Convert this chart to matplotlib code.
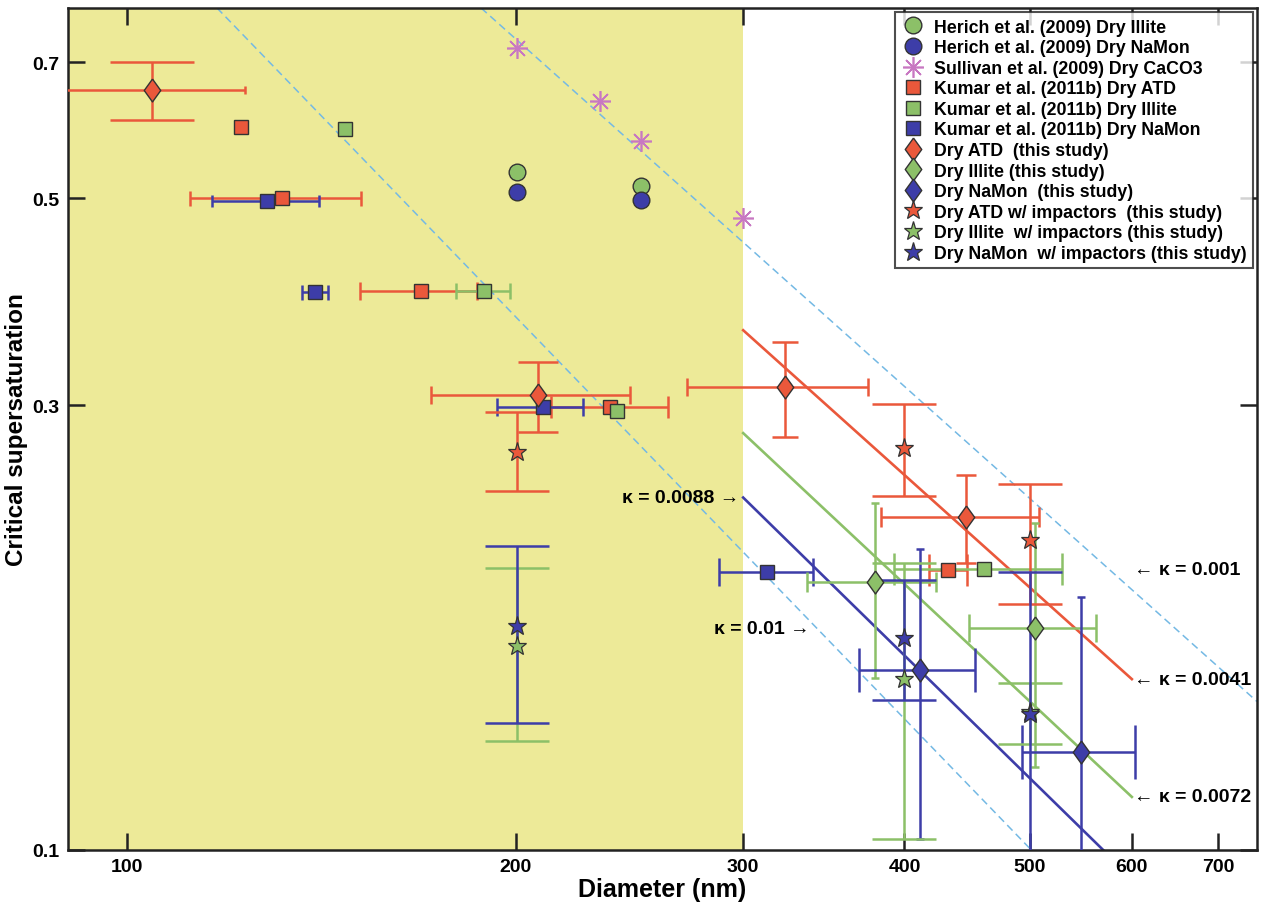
import numpy as np
import matplotlib
matplotlib.use('Agg')
import matplotlib.pyplot as plt
from matplotlib.lines import Line2D
from matplotlib import font_manager
from matplotlib.ticker import FixedLocator, FixedFormatter, NullLocator

# ---------------- data ----------------
herich_illite_d = [200.5, 250.1]
herich_illite_s = [0.533, 0.516]
herich_namon_d = [200.5, 250.1]
herich_namon_s = [0.508, 0.4975]

sullivan_d = [200.6, 232.3, 250.1, 300.0]
sullivan_s = [0.725, 0.636, 0.5765, 0.476]

kumar_atd_d = [122.5, 131.8, 169.0, 236.6, 432.6]
kumar_atd_s = [0.597, 0.500, 0.398, 0.299, 0.1997]
kumar_atd_dlo = [np.nan, 111.8, 151.5, 213.0, 417.5]
kumar_atd_dhi = [np.nan, 151.8, 186.6, 262.6, 447.0]

kumar_illite_d = [147.5, 189.0, 239.7, 461.0]
kumar_illite_s = [0.593, 0.398, 0.296, 0.200]
kumar_illite_dlo = [np.nan, 179.7, np.nan, 392.6]
kumar_illite_dhi = [np.nan, 198.1, np.nan, 530.0]

kumar_namon_d = [128.4, 139.9, 209.8, 312.8]
kumar_namon_s = [0.497, 0.397, 0.299, 0.1987]
kumar_namon_dlo = [116.3, 136.6, 193.4, 287.2]
kumar_namon_dhi = [140.7, 143.2, 225.3, 339.5]

dry_atd_d = [104.6, 208.1, 323.2, 446.0]
dry_atd_s = [0.653, 0.3075, 0.314, 0.2275]
dry_atd_dlo = [88.6, 171.9, 271.4, 383.7]
dry_atd_dhi = [123.5, 245.2, 375.0, 508.0]
dry_atd_slo = [0.607, 0.281, 0.2776, 0.2034]
dry_atd_shi = [0.700, 0.334, 0.3504, 0.2526]

dry_illite_d = [379.3, 505.0]
dry_illite_s = [0.194, 0.173]
dry_illite_dlo = [336.0, 448.6]
dry_illite_dhi = [423.0, 563.0]
dry_illite_slo = [0.153, 0.1226]
dry_illite_shi = [0.2354, 0.224]

dry_namon_d = [411.3, 547.7]
dry_namon_s = [0.156, 0.1273]
dry_namon_dlo = [368.9, 493.2]
dry_namon_dhi = [453.3, 603.7]
dry_namon_slo = [0.1028, 0.0676]
dry_namon_shi = [0.2101, 0.187]

imp_atd_d = [200.5, 400.0, 500.0]
imp_atd_s = [0.2675, 0.270, 0.215]
imp_atd_slo = [0.2425, 0.240, 0.1834]
imp_atd_shi = [0.2947, 0.301, 0.247]

imp_illite_d = [200.5, 400.0, 500.0]
imp_illite_s = [0.1657, 0.1525, 0.1405]
imp_illite_slo = [0.131, 0.1028, 0.130]
imp_illite_shi = [0.2005, 0.2031, 0.151]

imp_namon_d = [200.5, 400.0, 500.0]
imp_namon_s = [0.1738, 0.169, 0.140]
imp_namon_slo = [0.1368, 0.145, 0.081]
imp_namon_shi = [0.2118, 0.1947, 0.1986]

# kappa iso-lines (end points)
kappa_labels = ['0.001', '0.0041', '0.0072', '0.0088', '0.01']
kappa_d = [[188.0, 750.0], [300.0, 600.0], [300.0, 600.0], [300.0, 600.0], [117.4, 501.5]]
kappa_s = [[0.80, 0.1443], [0.361, 0.1525], [0.280, 0.114], [0.2388, 0.0933], [0.80, 0.100]]

x_ticks = [100, 200, 300, 400, 500, 600, 700]
x_ticklabels = ['100', '200', '300', '400', '500', '600', '700']
y_ticks = [0.1, 0.3, 0.5, 0.7]
y_ticklabels = ['0.1', '0.3', '0.5', '0.7']

legend_labels = [
    'Herich et al. (2009) Dry Illite',
    'Herich et al. (2009) Dry NaMon',
    'Sullivan et al. (2009) Dry CaCO3',
    'Kumar et al. (2011b) Dry ATD',
    'Kumar et al. (2011b) Dry Illite',
    'Kumar et al. (2011b) Dry NaMon',
    'Dry ATD  (this study)',
    'Dry Illite (this study)',
    'Dry NaMon  (this study)',
    'Dry ATD w/ impactors  (this study)',
    'Dry Illite  w/ impactors (this study)',
    'Dry NaMon  w/ impactors (this study)',
]

# ---------------- styles ----------------
RED = '#EA583B'
GREEN = '#8CC068'
BLUE = '#3D3DA8'
DASH = '#74B9E4'
PURPLE = '#C878C2'
YELLOW = '#EDEA98'
EDGE = '#333333'

names = {f.name for f in font_manager.fontManager.ttflist}
if 'Liberation Sans Narrow' in names:
    base = 'Liberation Sans Narrow'
elif 'Liberation Sans' in names:
    base = 'Liberation Sans'
else:
    base = 'DejaVu Sans'
plt.rcParams['font.family'] = [base, 'DejaVu Sans']
plt.rcParams['font.weight'] = 'bold'
plt.rcParams['axes.labelweight'] = 'bold'

DIAMOND = [(0, 1), (0.72, 0), (0, -1), (-0.72, 0), (0, 1)]
ELW = 1.8

fig = plt.figure(figsize=(12.64, 9.04), dpi=100)
ax = fig.add_axes([68 / 1264, 53 / 904, (1257 - 68) / 1264, (851 - 9) / 904])
ax.set_xscale('log')
ax.set_yscale('log')
ax.set_xlim(90, 750)
ax.set_ylim(0.1, 0.8)
ax.axvspan(90, 300, color=YELLOW, lw=0, zorder=0)


def xerrs(d, s, lo, hi, color, caps):
    for i in range(len(d)):
        if np.isnan(lo[i]):
            continue
        ax.errorbar(d[i], s[i], xerr=[[d[i] - lo[i]], [hi[i] - d[i]]], fmt='none',
                    ecolor=color, elinewidth=ELW, capsize=caps[i], capthick=ELW, zorder=3)


def yerrs(d, s, lo, hi, color, caps):
    for i in range(len(d)):
        ax.errorbar(d[i], s[i], yerr=[[s[i] - lo[i]], [hi[i] - s[i]]], fmt='none',
                    ecolor=color, elinewidth=ELW, capsize=caps[i], capthick=ELW, zorder=3)


# kappa lines
kstyle = [dict(color=DASH, ls=(0, (5, 3)), lw=1.1),
          dict(color=RED, ls='-', lw=1.9),
          dict(color=GREEN, ls='-', lw=1.9),
          dict(color=BLUE, ls='-', lw=1.9),
          dict(color=DASH, ls=(0, (5, 3)), lw=1.1)]
for dd, ss, st in zip(kappa_d, kappa_s, kstyle):
    ax.plot(dd, ss, zorder=2, **st)

# error bars
xerrs(kumar_atd_d, kumar_atd_s, kumar_atd_dlo, kumar_atd_dhi, RED, [0, 5.4, 6.5, 8, 11.5])
xerrs(kumar_illite_d, kumar_illite_s, kumar_illite_dlo, kumar_illite_dhi, GREEN, [0, 5.8, 0, 11.5])
xerrs(kumar_namon_d, kumar_namon_s, kumar_namon_dlo, kumar_namon_dhi, BLUE, [4.3, 5.4, 6.5, 10])

xerrs(dry_atd_d, dry_atd_s, dry_atd_dlo, dry_atd_dhi, RED, [3, 6.8, 6.5, 7.2])
yerrs(dry_atd_d, dry_atd_s, dry_atd_slo, dry_atd_shi, RED, [30, 14.4, 9.4, 7.2])
xerrs(dry_illite_d, dry_illite_s, dry_illite_dlo, dry_illite_dhi, GREEN, [7.2, 10])
yerrs(dry_illite_d, dry_illite_s, dry_illite_slo, dry_illite_shi, GREEN, [3, 3])
xerrs(dry_namon_d, dry_namon_s, dry_namon_dlo, dry_namon_dhi, BLUE, [16, 19.5])
yerrs(dry_namon_d, dry_namon_s, dry_namon_slo, dry_namon_shi, BLUE, [3, 3])

yerrs(imp_atd_d, imp_atd_s, imp_atd_slo, imp_atd_shi, RED, [22.7] * 3)
yerrs(imp_illite_d, imp_illite_s, imp_illite_slo, imp_illite_shi, GREEN, [22.7] * 3)
yerrs(imp_namon_d, imp_namon_s, imp_namon_slo, imp_namon_shi, BLUE, [22.7] * 3)

# markers
series = [
    (herich_illite_d, herich_illite_s, dict(marker='o', ms=12, mfc=GREEN, mec=EDGE, mew=1.0)),
    (herich_namon_d, herich_namon_s, dict(marker='o', ms=12, mfc=BLUE, mec=EDGE, mew=1.0)),
    (sullivan_d, sullivan_s, dict(marker=(8, 2, 0), ms=15, mfc=PURPLE, mec=PURPLE, mew=1.2)),
    (kumar_atd_d, kumar_atd_s, dict(marker='s', ms=10.5, mfc=RED, mec=EDGE, mew=1.0)),
    (kumar_illite_d, kumar_illite_s, dict(marker='s', ms=10.5, mfc=GREEN, mec=EDGE, mew=1.0)),
    (kumar_namon_d, kumar_namon_s, dict(marker='s', ms=10.5, mfc=BLUE, mec=EDGE, mew=1.0)),
    (dry_atd_d, dry_atd_s, dict(marker=DIAMOND, ms=16.5, mfc=RED, mec=EDGE, mew=1.0)),
    (dry_illite_d, dry_illite_s, dict(marker=DIAMOND, ms=16.5, mfc=GREEN, mec=EDGE, mew=1.0)),
    (dry_namon_d, dry_namon_s, dict(marker=DIAMOND, ms=16.5, mfc=BLUE, mec=EDGE, mew=1.0)),
    (imp_atd_d, imp_atd_s, dict(marker='*', ms=14, mfc=RED, mec=EDGE, mew=0.9)),
    (imp_illite_d, imp_illite_s, dict(marker='*', ms=14, mfc=GREEN, mec=EDGE, mew=0.9)),
    (imp_namon_d, imp_namon_s, dict(marker='*', ms=14, mfc=BLUE, mec=EDGE, mew=0.9)),
]
handles = []
for d, s, st in series:
    ax.plot(d, s, ls='none', zorder=5, **st)
    handles.append(Line2D([], [], ls='none', **st))

# kappa annotations
kfs = 14
ax.text(298, 0.2388, '\u03ba = 0.0088 \u2192', ha='right', va='center', fontsize=kfs)
ax.text(338, 0.173, '\u03ba = 0.01 \u2192', ha='right', va='center', fontsize=kfs)
ax.text(602, 0.2, '\u2190 \u03ba = 0.001', ha='left', va='center', fontsize=kfs)
ax.text(602, 0.1525, '\u2190 \u03ba = 0.0041', ha='left', va='center', fontsize=kfs)
ax.text(602, 0.114, '\u2190 \u03ba = 0.0072', ha='left', va='center', fontsize=kfs)

# axes styling
ax.xaxis.set_major_locator(FixedLocator(x_ticks))
ax.xaxis.set_major_formatter(FixedFormatter(x_ticklabels))
ax.xaxis.set_minor_locator(NullLocator())
ax.yaxis.set_major_locator(FixedLocator(y_ticks))
ax.yaxis.set_major_formatter(FixedFormatter(y_ticklabels))
ax.yaxis.set_minor_locator(NullLocator())
ax.tick_params(which='both', direction='in', top=True, right=True, length=12,
               width=1.8, labelsize=14, color='#222222', pad=6)
for sp in ax.spines.values():
    sp.set_linewidth(1.8)
    sp.set_color('#222222')

ax.set_xlabel('Diameter (nm)', fontsize=18, fontweight='bold', labelpad=1)
ax.set_ylabel('Critical supersaturation', fontsize=17.5, fontweight='bold', labelpad=3)

leg = ax.legend(handles, legend_labels, loc='upper right', fontsize=12.8, frameon=True,
                fancybox=False, borderaxespad=0.25, handlelength=1.3, handletextpad=0.5,
                labelspacing=0.2, borderpad=0.35)
leg.get_frame().set_edgecolor('#222222')
leg.get_frame().set_linewidth(1.5)
leg.set_zorder(10)

fig.savefig('out.png', dpi=100)
